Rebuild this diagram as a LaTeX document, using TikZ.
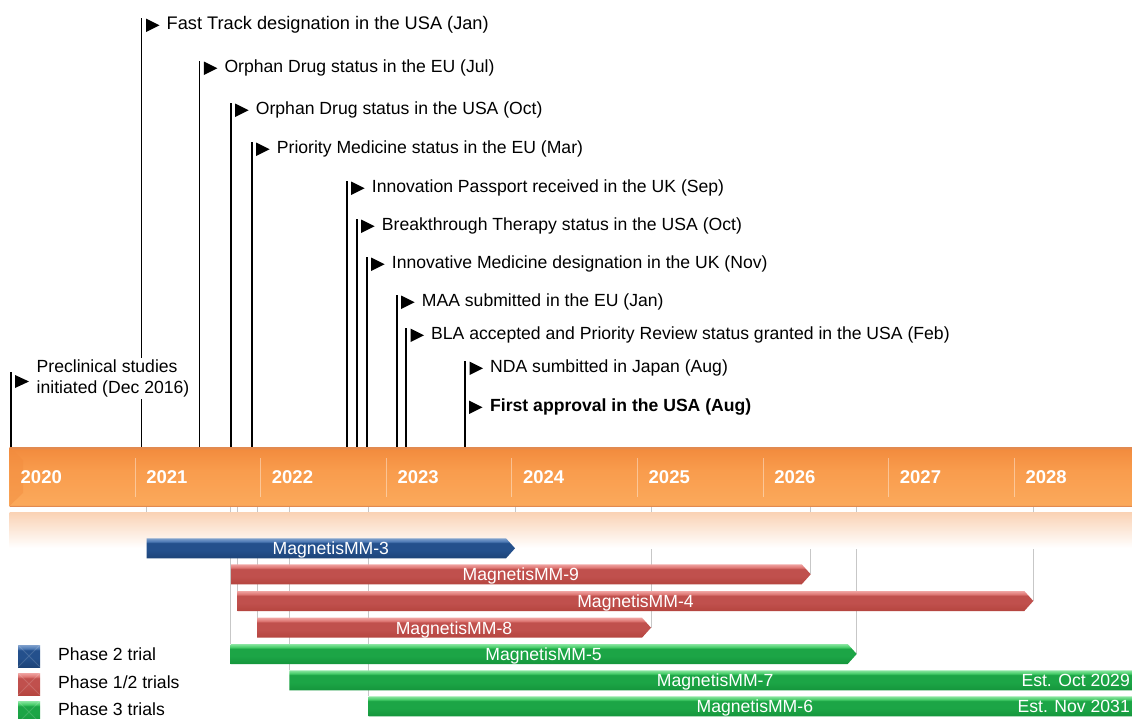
\documentclass[tikz,border=0pt]{standalone}
\usepackage{fontspec}
\setmainfont{Liberation Sans}
\usetikzlibrary{calc}
\definecolor{orTop}{HTML}{F28C3E}
\definecolor{orMid}{HTML}{F99C4D}
\definecolor{orBot}{HTML}{FBA95B}
\definecolor{orEdge}{HTML}{E28A50}
\definecolor{orRefl}{HTML}{FAD2B4}
\definecolor{bDark}{HTML}{1D4478}
\definecolor{bBase}{HTML}{24508C}
\definecolor{bLight}{HTML}{4E7AB5}
\definecolor{bTop}{HTML}{7FA0CC}
\definecolor{rDark}{HTML}{B5453F}
\definecolor{rBase}{HTML}{C0504D}
\definecolor{rLight}{HTML}{DE7774}
\definecolor{rTop}{HTML}{F0A4A2}
\definecolor{gDark}{HTML}{15963C}
\definecolor{gBase}{HTML}{1CA546}
\definecolor{gLight}{HTML}{45CC68}
\definecolor{gTop}{HTML}{8BE6A2}
\pgfdeclareverticalshading{bluebar}{100bp}{color(0bp)=(bDark); color(25bp)=(bDark); color(45bp)=(bBase); color(63bp)=(bBase); color(67bp)=(bLight); color(75bp)=(bTop); color(100bp)=(bTop)}
\pgfdeclareverticalshading{redbar}{100bp}{color(0bp)=(rDark); color(25bp)=(rDark); color(45bp)=(rBase); color(63bp)=(rBase); color(67bp)=(rLight); color(75bp)=(rTop); color(100bp)=(rTop)}
\pgfdeclareverticalshading{greenbar}{100bp}{color(0bp)=(gDark); color(25bp)=(gDark); color(45bp)=(gBase); color(63bp)=(gBase); color(67bp)=(gLight); color(75bp)=(gTop); color(100bp)=(gTop)}
\pgfdeclareverticalshading{orbar}{100bp}{color(0bp)=(orEdge); color(25bp)=(orEdge); color(26bp)=(orBot); color(55bp)=(orMid); color(73bp)=(orTop); color(74bp)=(orEdge); color(100bp)=(orEdge)}
\pgfdeclarelayer{back}
\pgfdeclarelayer{guides}
\pgfsetlayers{back,guides,main}
\newcommand\trialbar[6]{%
  \coordinate (#1-s) at (#2,#4);
  \coordinate (#1-e) at (#3,#4+10);
  \shade[shading=#5] (#2,#4) -- (#3-9,#4) -- (#3,#4+10) -- (#3-9,#4+20) -- (#2,#4+20) -- cycle;
  \node[bartext] (#1) at ({(#2+#3)/2},#4+16.3) {#6};
}
\begin{document}
\begin{tikzpicture}[x=1pt,y=-1pt,
  lbl/.style={anchor=base west, inner sep=0pt, font=\fontsize{17.6}{21}\selectfont, text=black},
  msline/.style={draw=black, line width=1.6pt},
  flag/.style={fill=black},
  yearlbl/.style={anchor=base west, inner sep=0pt, font=\fontsize{18.5}{22}\selectfont\bfseries, text=white},
  guide/.style={draw=black!22, line width=1pt},
  bartext/.style={anchor=base, inner sep=0pt, font=\fontsize{17.6}{21}\selectfont, text=white},
  sep/.style={draw=white, draw opacity=0.4, line width=1pt},
  legtext/.style={anchor=base west, inner sep=0pt, font=\fontsize{17.6}{21}\selectfont, text=black},
]
\clip (0,0) rectangle (1132,718);
\begin{pgfonlayer}{back}
\fill[white] (0,0) rectangle (1132,718);
\end{pgfonlayer}

% timeline bar
\shade[shading=orbar] (9.5,447) rectangle (1145,506);
\fill[orTop, opacity=0.45] (9.5,447) -- (23,460) -- (23,493) -- (9.5,506) -- cycle;
\shade[top color=orRefl, bottom color=white] (9.5,512) rectangle (1145,548);
\coordinate (tltop) at (0,447);
\coordinate (tlbot) at (0,506);
\foreach \k in {1,...,8} \draw[sep] (9.5+125.6*\k,458) -- (9.5+125.6*\k,497);
\foreach \k/\yr in {0/2020,1/2021,2/2022,3/2023,4/2024,5/2025,6/2026,7/2027,8/2028}
  \node[yearlbl] (y\yr) at (20.5+125.6*\k,483) {\yr};

% milestones
\foreach \nm/\lx/\bl/\txt in {
  m1/141.5/29/{Fast Track designation in the USA (Jan)},
  m2/199.3/72/{Orphan Drug status in the EU (Jul)},
  m3/230.7/114/{Orphan Drug status in the USA (Oct)},
  m4/251.7/153/{Priority Medicine status in the EU (Mar)},
  m5/346.7/192/{Innovation Passport received in the UK (Sep)},
  m6/356.7/230/{Breakthrough Therapy status in the USA (Oct)},
  m7/366.7/268/{Innovative Medicine designation in the UK (Nov)},
  m8/396.7/306/{MAA submitted in the EU (Jan)},
  m9/406/339/{BLA accepted and Priority Review status granted in the USA (Feb)},
  m10/465/372/{NDA sumbitted in Japan (Aug)}}{
  \coordinate (\nm-top) at (\lx,\bl-11);
  \coordinate (\nm-foot) at (\lx,447);
  \fill[flag] (\lx+4.5,\bl-10.5) -- (\lx+18,\bl-3.75) -- (\lx+4.5,\bl+3) -- cycle;
  \draw[msline] (\nm-top) -- (\nm-foot);
}
\node[lbl, font=\fontsize{18.2}{21}\selectfont] (m1) at (166.5,29) {Fast Track designation in the USA (Jan)};
\node[lbl] (m2) at (224.3,72) {Orphan Drug status in the EU (Jul)};
\node[lbl] (m3) at (255.7,114) {Orphan Drug status in the USA (Oct)};
\node[lbl] (m4) at (276.7,153) {Priority Medicine status in the EU (Mar)};
\node[lbl] (m5) at (371.7,192) {Innovation Passport received in the UK (Sep)};
\node[lbl] (m6) at (381.7,230) {Breakthrough Therapy status in the USA (Oct)};
\node[lbl] (m7) at (391.7,268) {Innovative Medicine designation in the UK (Nov)};
\node[lbl] (m8) at (421.7,306) {MAA submitted in the EU (Jan)};
\node[lbl] (m9) at (431,339) {BLA accepted and Priority Review status granted in the USA (Feb)};
\node[lbl] (m10) at (490,372) {NDA sumbitted in Japan (Aug)};
\node[lbl, font=\fontsize{17.6}{21}\selectfont\bfseries] (m11) at (490,411) {First approval in the USA (Aug)};
\fill[flag] (469,400.5) -- (482.5,407.25) -- (469,414) -- cycle;
% preclinical
\coordinate (m0-top) at (11,372);
\coordinate (m0-foot) at (11,447);
\draw[msline] (m0-top) -- (m0-foot);
\fill[flag] (15,375) -- (29,381.5) -- (15,388) -- cycle;
\node[lbl, anchor=north west, align=left, fill=white, inner xsep=1pt, inner ysep=2pt, font=\fontsize{17.6}{21}\selectfont]
  (m0) at (35.5,357.5) {Preclinical studies\\initiated (Dec 2016)};

% trial bars
\trialbar{mm3}{146.7}{515}{538.3}{bluebar}{MagnetisMM-3}
\trialbar{mm9}{231}{810.7}{564.3}{redbar}{MagnetisMM-9}
\trialbar{mm4}{237.7}{1033.3}{591}{redbar}{MagnetisMM-4}
\trialbar{mm8}{257}{651}{617.7}{redbar}{MagnetisMM-8}
\trialbar{mm5}{230.5}{856.7}{644}{greenbar}{MagnetisMM-5}
\trialbar{mm7}{289.3}{1141}{670.3}{greenbar}{MagnetisMM-7}
\trialbar{mm6}{368.7}{1141}{696.3}{greenbar}{MagnetisMM-6}
\node[bartext, anchor=base east] (est7) at (1130,686.6) {Est. Oct 2029};
\node[bartext, anchor=base east] (est6) at (1130,712.6) {Est. Nov 2031};

% guide lines
\begin{pgfonlayer}{guides}
\foreach \b in {mm3-s,mm3-e,mm5-s,mm4-s,mm8-s,mm7-s,mm6-s,mm8-e,mm9-e,mm5-e,mm4-e}
  \draw[guide] (tlbot -| \b) -- (\b);
\end{pgfonlayer}

% legend
\shade[shading=bluebar] (18,645) rectangle (40,667);
\shade[shading=redbar] (18,673) rectangle (40,695);
\shade[shading=greenbar] (18,701) rectangle (40,723);
\foreach \yy in {645,673,701}
  \draw[white, opacity=0.15, line width=0.8pt] (18,\yy) -- (40,\yy+22) (40,\yy) -- (18,\yy+22);
\node[legtext] (leg2) at (58,660.7) {Phase 2 trial};
\node[legtext] (leg12) at (58,688.3) {Phase 1/2 trials};
\node[legtext] (leg3) at (58,715) {Phase 3 trials};
\end{tikzpicture}
\end{document}
